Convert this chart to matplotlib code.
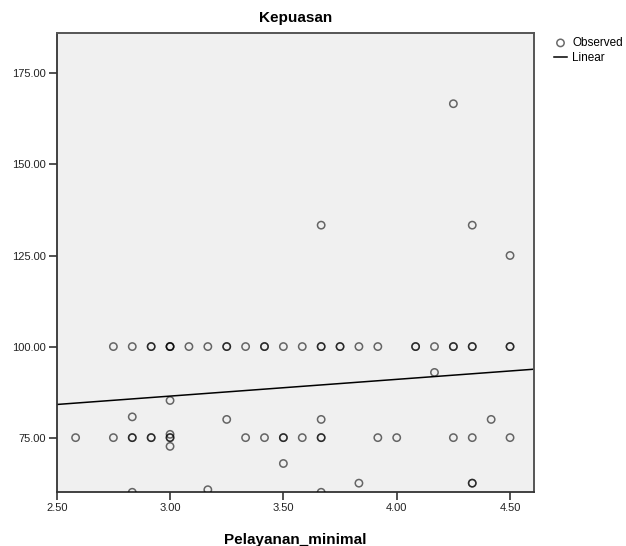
import matplotlib
matplotlib.use("Agg")
import matplotlib.pyplot as plt
import numpy as np

plt.rcParams['font.family'] = ['Liberation Sans', 'DejaVu Sans']

# observed points (Pelayanan_minimal, Kepuasan), repeated values kept as repeats
pelayanan = [
    2.75, 2.8333, 2.9167, 2.9167, 3.0, 3.0, 3.0, 3.0833, 3.1667, 3.25, 3.25,
    3.3333, 3.4167, 3.4167, 3.5, 3.5833, 3.6667, 3.6667, 3.75, 3.75, 3.8333,
    3.9167, 4.0833, 4.0833, 4.1667, 4.25, 4.25, 4.3333, 4.3333, 4.5, 4.5,
    2.5833, 2.75, 2.8333, 2.8333, 2.9167, 2.9167, 3.0, 3.0, 3.3333, 3.4167,
    3.5, 3.5, 3.5833, 3.6667, 3.6667, 3.9167, 4.0, 4.25, 4.3333, 4.5,
    3.0, 3.0, 3.0, 2.8333, 3.25, 3.6667, 4.4167, 4.1667, 3.5, 3.8333,
    4.3333, 4.3333, 2.8333, 3.1667, 3.6667, 4.25, 3.6667, 4.3333, 4.5,
]
kepuasan = [
    100, 100, 100, 100, 100, 100, 100, 100, 100, 100, 100,
    100, 100, 100, 100, 100, 100, 100, 100, 100, 100,
    100, 100, 100, 100, 100, 100, 100, 100, 100, 100,
    75, 75, 75, 75, 75, 75, 75, 75, 75, 75,
    75, 75, 75, 75, 75, 75, 75, 75, 75, 75,
    85.2, 75.9, 72.6, 80.7, 80, 80, 80, 92.9, 67.9, 62.5,
    62.5, 62.5, 60, 60.7, 60, 166.67, 133.33, 133.33, 125,
]

# linear fit
b0 = 72.6
b1 = 4.60

xticks = [2.5, 3.0, 3.5, 4.0, 4.5]
yticks = [75, 100, 125, 150, 175]

fig = plt.figure(figsize=(6.26, 5.46), dpi=100)
ax = fig.add_axes([0.0906, 0.0984, 0.7629, 0.8406])
ax.set_facecolor('#f0f0f0')

ax.scatter(pelayanan, kepuasan, s=28, facecolors='none', edgecolors=(0, 0, 0, 0.58),
           linewidths=1.1, zorder=3, label='Observed')

ax.set_xlim(2.5, 4.607)
ax.set_ylim(60, 186)
xs = np.array(ax.get_xlim())
ax.plot(xs, b0 + b1 * xs, color='black', lw=1.1, zorder=2, label='Linear')

ax.set_xticks(xticks)
ax.set_yticks(yticks)
ax.set_xticklabels(['%.2f' % v for v in xticks])
ax.set_yticklabels(['%.2f' % v for v in yticks])
ax.tick_params(axis='both', direction='out', length=6, width=1.2, color='#333333',
               labelsize=8, labelcolor='#222222', pad=2)

for side in ['top', 'right']:
    ax.spines[side].set_color('#555555')
    ax.spines[side].set_linewidth(1.4)
for side in ['bottom', 'left']:
    ax.spines[side].set_color('#333333')
    ax.spines[side].set_linewidth(1.3)

ax.set_title('Kepuasan', fontsize=11, fontweight='bold', pad=8)
ax.set_xlabel('Pelayanan_minimal', fontsize=11, fontweight='bold', labelpad=14)

fig.legend(loc='upper left', bbox_to_anchor=(554 / 626, 1 - 37 / 546), frameon=False,
           fontsize=8.5, handlelength=1.1, handletextpad=0.45, labelspacing=0.25,
           borderaxespad=0, borderpad=0)

fig.savefig('out.png', dpi=100)
